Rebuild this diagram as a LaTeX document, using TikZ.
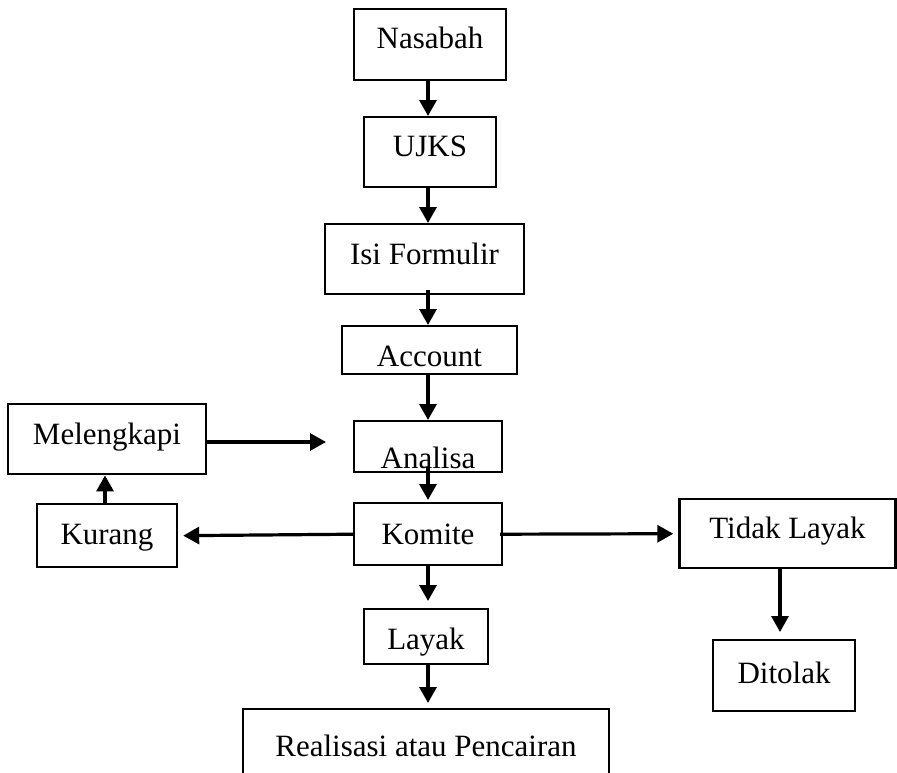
\documentclass[tikz,border=0pt]{standalone}
\usepackage{fontspec}
\setmainfont{Liberation Serif}
\usetikzlibrary{arrows.meta}
\begin{document}
\begin{tikzpicture}[x=1pt,y=-1pt,
  box/.style={draw, line width=2.4pt, inner sep=0pt, anchor=north, font=\fontsize{31}{37}\selectfont},
  arr/.style={line width=3.2pt, -{Triangle[length=16pt,width=17pt]}}]
\useasboundingbox (0,0) rectangle (897,772);
\clip (0,0) rectangle (897,772);
\coordinate (spine) at (428,0);
\coordinate (col) at (780,0);
\coordinate (melend) at (326,442);

\node[box, minimum width=152pt, text height=39pt, text depth=32pt] (nas) at (430,8) {Nasabah};
\node[box, minimum width=132pt, text height=39pt, text depth=31pt] (ujks) at (430,116) {UJKS};
\node[box, minimum width=199pt, text height=40pt, text depth=30pt] (isi) at (424.5,223) {Isi Formulir};
\node[box, minimum width=175pt, text height=40pt, text depth=8pt] (acc) at (429.5,325) {Account};
\node[box, minimum width=148pt, text height=47pt, text depth=4pt] (ana) at (428,420) {Analisa};
\node[box, minimum width=198pt, text height=40pt, text depth=30pt] (mel) at (107,403) {Melengkapi};
\node[box, minimum width=148pt, text height=41pt, text depth=21pt] (kom) at (428,502) {Komite};
\node[box, minimum width=140pt, text height=40pt, text depth=23pt] (kur) at (107,503) {Kurang};
\node[box, minimum width=216pt, text height=39pt, text depth=30pt] (tid) at (787.5,498) {Tidak Layak};
\node[box, minimum width=142pt, text height=43pt, text depth=28pt] (dit) at (784,639) {Ditolak};
\node[box, minimum width=124pt, text height=40pt, text depth=15pt] (lay) at (426,608) {Layak};
\node[box, minimum width=366pt, text height=47pt, text depth=80pt] (real) at (426,708) {Realisasi atau Pencairan};

\draw[arr] (nas.south -| spine) -- (ujks.north -| spine);
\draw[arr] (ujks.south -| spine) -- (isi.north -| spine);
\draw[arr] ([yshift=5pt]isi.south -| spine) -- (acc.north -| spine);
\draw[arr] (acc.south -| spine) -- (ana.north -| spine);
\draw[arr] ([yshift=6pt]ana.south -| spine) -- ([yshift=2pt]kom.north -| spine);
\draw[arr, shorten >=7pt] (kom.south -| spine) -- (lay.north -| spine);
\draw[arr, shorten >=5pt] (lay.south -| spine) -- (real.north -| spine);
\draw[arr, shorten >=5pt] (kom.west) -- (kur.east);
\draw[arr, shorten >=5pt] ([xshift=-3pt]kom.east) -- (tid.west);
\draw[arr, shorten >=7pt] (tid.south -| col) -- (dit.north -| col);
\draw[arr] (kur.north -| 105,0) -- (mel.south -| 105,0);
\draw[arr] (mel.east |- melend) -- (melend);
\end{tikzpicture}
\end{document}
